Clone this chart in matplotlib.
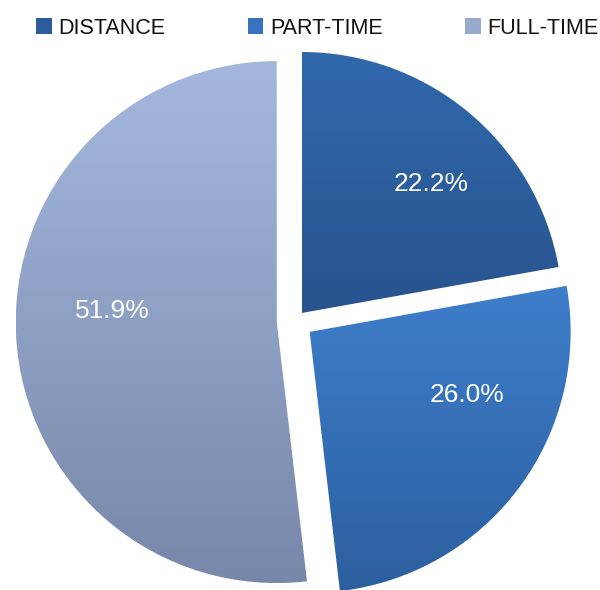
import numpy as np
import matplotlib
matplotlib.use("Agg")
import matplotlib.pyplot as plt
from matplotlib.colors import LinearSegmentedColormap
from matplotlib.patches import Patch

plt.rcParams["font.family"] = ["Liberation Sans", "DejaVu Sans"]

# data
categories = ["DISTANCE", "PART-TIME", "FULL-TIME"]
shares = [22.2, 26.0, 51.9]

# styling
top_colors = ["#3068ac", "#3d7ecb", "#a4b8de"]
bottom_colors = ["#28548e", "#2c5f9f", "#7787a9"]
legend_colors = ["#2c5c9c", "#3672bd", "#98aacd"]
explode = [0.04, 0.07, 0.07]
# label placement relative to each exploded wedge centre: (angle deg, radius)
label_pos = [(45, 0.70), (-22, 0.65), (176, 0.63)]

fig = plt.figure(figsize=(6.0, 5.9), dpi=100)
ax = fig.add_axes([0, 0, 1, 1])

wedges, _ = ax.pie(
    shares,
    explode=explode,
    startangle=90,
    counterclock=False,
    radius=1.0,
)
ax.set_aspect("auto")
ax.set_xlim(-295 / 261, 305 / 261)
ax.set_ylim(-269 / 261, 321 / 261)
ax.axis("off")

grad = np.linspace(0, 1, 256).reshape(-1, 1)
for i, w in enumerate(wedges):
    w.set_facecolor("none")
    w.set_edgecolor("none")
    ext = w.get_path().get_extents()
    cmap = LinearSegmentedColormap.from_list(
        f"g{i}", [top_colors[i], bottom_colors[i]]
    )
    im = ax.imshow(
        grad,
        cmap=cmap,
        extent=(ext.x0, ext.x1, ext.y0, ext.y1),
        origin="upper",
        aspect="auto",
        zorder=2,
    )
    im.set_clip_path(w)

    cx, cy = w.center
    ang, rad = label_pos[i]
    ax.text(
        cx + rad * np.cos(np.radians(ang)),
        cy + rad * np.sin(np.radians(ang)),
        f"{shares[i]:.1f}%",
        color="white",
        fontsize=19,
        ha="center",
        va="center",
        zorder=3,
    )

handles = [Patch(facecolor=c, edgecolor="none") for c in legend_colors]
fig.legend(
    handles,
    categories,
    loc="center left",
    bbox_to_anchor=(36 / 600, 1 - 28 / 590),
    ncol=3,
    frameon=False,
    fontsize=15.5,
    handlelength=0.72,
    handleheight=0.72,
    handletextpad=0.3,
    columnspacing=3.85,
    borderpad=0,
    borderaxespad=0,
    labelcolor="#111111",
)

fig.savefig("out.png", dpi=100)
